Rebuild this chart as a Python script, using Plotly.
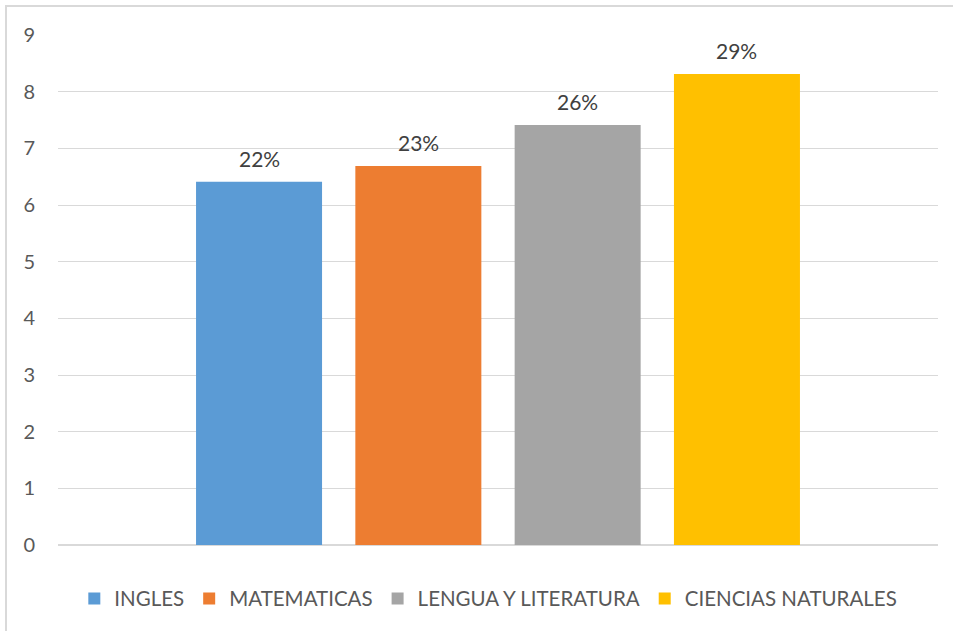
import plotly.graph_objects as go

subjects = ["INGLES", "MATEMATICAS", "LENGUA Y LITERATURA", "CIENCIAS NATURALES"]
values = [6.41, 6.69, 7.41, 8.31]
labels = ["22%", "23%", "26%", "29%"]
colors = ["#5B9BD5", "#ED7D31", "#A5A5A5", "#FFC000"]

FONT = "Lato"
fig = go.Figure()
for s, v, c in zip(subjects, values, colors):
    fig.add_trace(go.Bar(
        name=s, x=[s], y=[v], marker=dict(color=c, line=dict(width=0)),
        hoverinfo="skip",
    ))

annotations = [
    dict(x=s, y=v, text=t, xref="x", yref="y", showarrow=False,
         yanchor="bottom", yshift=9,
         font=dict(family=FONT, size=21, color="#404040"))
    for s, v, t in zip(subjects, values, labels)
]

fig.update_layout(
    width=953, height=631,
    margin=dict(l=58, r=15, t=35, b=86),
    paper_bgcolor="white", plot_bgcolor="white",
    barmode="overlay", bargap=0.209,
    font=dict(family=FONT, size=20, color="#595959"),
    xaxis=dict(showticklabels=False, showgrid=False, zeroline=False, showline=False,
               range=[-1.262, 4.262], categoryorder="array", categoryarray=subjects),
    yaxis=dict(range=[0, 9], dtick=1, showgrid=True, gridcolor="#D9D9D9", gridwidth=1,
               zeroline=True, zerolinecolor="#D9D9D9", zerolinewidth=1.5,
               ticks="", ticklabelstandoff=22,
               tickfont=dict(family=FONT, size=20, color="#595959")),
    legend=dict(orientation="h", x=0.489, xanchor="center", y=-0.105, yanchor="middle",
                font=dict(family=FONT, size=20.5, color="#595959"),
                itemwidth=30, traceorder="normal"),
    showlegend=True,
    annotations=annotations,
    shapes=[dict(type="rect", xref="paper", yref="paper",
                 x0=-52 / 880, x1=1.2, y0=-0.3, y1=1 + 29 / 510,
                 line=dict(color="#D9D9D9", width=2), fillcolor="rgba(0,0,0,0)", layer="below")],
)

fig.write_html("out.html", config={"displayModeBar": False},
               post_script="document.body.style.margin='0';")
